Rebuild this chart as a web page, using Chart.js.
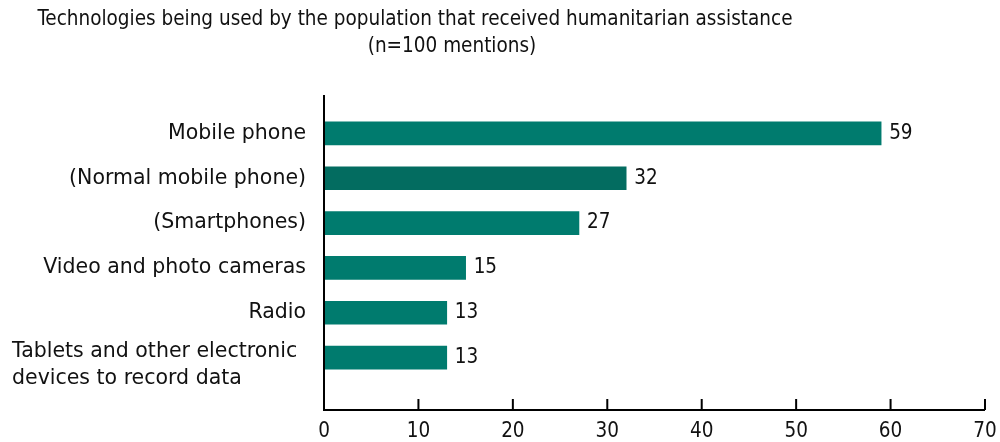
<!DOCTYPE html>
<html>
<head>
<meta charset="utf-8">
<script src="https://cdn.jsdelivr.net/npm/chart.js@4.4.1/dist/chart.umd.min.js"></script>
<style>
html,body{margin:0;padding:0;background:#fff;}
#wrap{position:relative;width:1000px;height:442px;}
</style>
</head>
<body>
<div id="wrap"><canvas id="c" width="1000" height="442"></canvas></div>
<script>
const titleLines = ["Technologies being used by the population that received humanitarian assistance", "(n=100 mentions)"];
const categories = ["Mobile phone", "(Normal mobile phone)", "(Smartphones)", "Video and photo cameras", "Radio", ["Tablets and other electronic", "devices to record data"]];
const values = [59, 32, 27, 15, 13, 13];
const barColors = ["#007b6e", "#036c60", "#007b6e", "#007b6e", "#007b6e", "#007b6e"];
const xTicks = [0, 10, 20, 30, 40, 50, 60, 70];

const FONT_C = "'DejaVu Sans Condensed', 'DejaVu Sans', sans-serif";
const FONT = "'DejaVu Sans', sans-serif";

const decor = {
  id: 'decor',
  afterDraw(chart) {
    const ctx = chart.ctx;
    const ca = chart.chartArea;
    const xs = chart.scales.x, ys = chart.scales.y;
    const axisY = ca.bottom + 30;
    const axisTop = ca.top - 16;
    ctx.save();
    // title
    ctx.fillStyle = '#111';
    ctx.font = "20.5px " + FONT_C;
    ctx.textAlign = 'center';
    ctx.textBaseline = 'middle';
    ctx.fillText(titleLines[0], 415, 20);
    ctx.fillText(titleLines[1], 452, 47);
    // axes
    ctx.strokeStyle = '#000';
    ctx.lineWidth = 2;
    ctx.beginPath();
    ctx.moveTo(ca.left, axisTop);
    ctx.lineTo(ca.left, axisY);
    ctx.lineTo(xs.getPixelForValue(xTicks[xTicks.length-1]), axisY);
    ctx.stroke();
    ctx.beginPath();
    xTicks.forEach(v => {
      const px = xs.getPixelForValue(v);
      ctx.moveTo(px, axisY - 11);
      ctx.lineTo(px, axisY);
    });
    ctx.stroke();
    // category labels
    ctx.font = "20.5px " + FONT;
    ctx.fillStyle = '#111';
    categories.forEach((lab, i) => {
      const py = ys.getPixelForValue(i);
      if (Array.isArray(lab)) {
        ctx.textAlign = 'left';
        ctx.fillText(lab[0], 12, py - 6);
        ctx.fillText(lab[1], 12, py + 21);
      } else {
        ctx.textAlign = 'right';
        ctx.fillText(lab, ca.left - 18, py);
      }
    });
    // value labels
    ctx.font = "20.5px " + FONT_C;
    ctx.textAlign = 'left';
    const meta = chart.getDatasetMeta(0);
    meta.data.forEach((bar, i) => {
      ctx.fillText(String(values[i]), bar.x + 8, bar.y);
    });
    ctx.restore();
  }
};

new Chart(document.getElementById('c'), {
  type: 'bar',
  data: {
    labels: categories,
    datasets: [{
      data: values,
      backgroundColor: barColors,
      borderWidth: 0,
      barThickness: 23
    }]
  },
  options: {
    indexAxis: 'y',
    responsive: false,
    animation: false,
    layout: { padding: { top: 111, right: 15, left: 0, bottom: 0 } },
    plugins: { legend: { display: false }, title: { display: false }, tooltip: { enabled: false } },
    scales: {
      y: {
        type: 'category',
        offset: true,
        grid: { display: false },
        border: { display: false },
        ticks: { display: false },
        afterFit(s) { s.width = 324; }
      },
      x: {
        type: 'linear',
        min: 0, max: 70,
        grid: { display: false, drawTicks: false },
        border: { display: false },
        ticks: {
          stepSize: 10,
          padding: 39,
          color: '#111',
          font: { family: FONT_C, size: 20.5 }
        },
        afterFit(s) { s.height = 62; s.paddingLeft = 0; s.paddingRight = 0; }
      }
    }
  },
  plugins: [decor]
});
</script>
</body>
</html>
